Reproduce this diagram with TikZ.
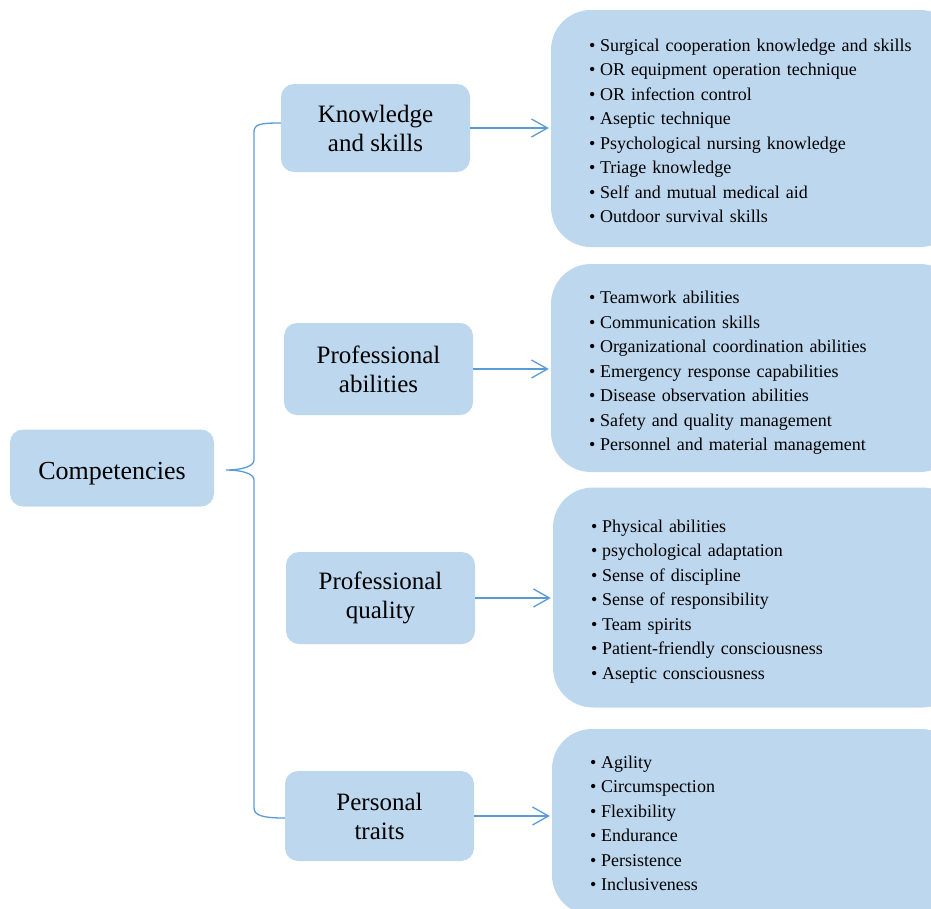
\documentclass[tikz,border=0pt]{standalone}
\usepackage{fontspec}
\setmainfont{Liberation Serif}
\usetikzlibrary{arrows.meta}
\definecolor{boxblue}{RGB}{189,215,238}
\definecolor{lineblue}{RGB}{91,155,213}
\newcommand{\itm}{\makebox[11pt][l]{\textbullet}}
\newcommand{\topgap}[1]{\rule{0pt}{#1}}

\begin{document}
\begin{tikzpicture}[x=1pt, y=-1pt, main/.style={fill=boxblue, rounded corners=13, align=center, minimum width=189, inner sep=0pt, font=\fontsize{25}{29}\selectfont}, info/.style={fill=boxblue, rounded corners=40, minimum width=409, text width=333, inner xsep=38, inner ysep=0pt, align=left, font=\fontsize{18}{24.5}\selectfont}, n/.style={-{Straight Barb[length=16pt,width=18pt]}, line width=1.3pt, lineblue, shorten >=2pt}, br/.style={line width=1.3pt, lineblue}]
            \useasboundingbox (0,0) rectangle (931,908);
            % nodes
            \node[main, minimum width=204, minimum height=77, font=\fontsize{26}{29}\selectfont, text height=22pt, text depth=0pt] (comp) at (112,468) {Competencies};
            \node[main, minimum height=88] (know) at (375.5,128) {Knowledge\\and skills};
            \node[main, minimum height=92] (abil) at (378.5,369) {Professional\\abilities};
            \node[main, minimum height=92] (qual) at (380.5,598) {Professional\\quality};
            \node[main, minimum height=90] (pers) at (379.5,816) {Personal\\traits};
            \node[info, minimum height=237] (list1) at (755.5,128.5) {\topgap{17.5pt}\itm Surgical cooperation knowledge and skills\\\itm OR equipment operation technique\\\itm OR infection control\\\itm Aseptic technique\\\itm Psychological nursing knowledge\\\itm Triage knowledge\\\itm Self and mutual medical aid\\\itm Outdoor survival skills};
            \node[info, minimum height=208] (list2) at (755.5,368) {\topgap{22.5pt}\itm Teamwork abilities\\\itm Communication skills\\\itm Organizational coordination abilities\\\itm Emergency response capabilities\\\itm Disease observation abilities\\\itm Safety and quality management\\\itm Personnel and material management};
            \node[info, minimum height=220] (list3) at (757.5,597.5) {\topgap{20.5pt}\itm Physical abilities\\\itm psychological adaptation\\\itm Sense of discipline\\\itm Sense of responsibility\\\itm Team spirits\\\itm Patient-friendly consciousness\\\itm Aseptic consciousness};
            \node[info, minimum height=186] (list4) at (756.5,822) {\topgap{15.5pt}\itm Agility\\\itm Circumspection\\\itm Flexibility\\\itm Endurance\\\itm Persistence\\\itm Inclusiveness};
            \coordinate (tip) at (226,470);
            % edges
            \draw [br] ([yshift=5pt]know.west) .. controls +(-20,0) and +(0,-8) .. (254,132) -- (254,460) .. controls +(0,7) and +(14,0) .. (tip) .. controls +(14,0) and +(0,-7) .. (254,480) -- (254,808) .. controls +(0,8) and +(-20,0) .. ([yshift=-2pt]pers.west);
            \draw [n] (know.east) -- (know.east -| list1.west);
            \draw [n] (abil.east) -- (abil.east -| list2.west);
            \draw [n] (qual.east) -- (qual.east -| list3.west);
            \draw [n] (pers.east) -- (pers.east -| list4.west);
        \end{tikzpicture}
\end{document}
